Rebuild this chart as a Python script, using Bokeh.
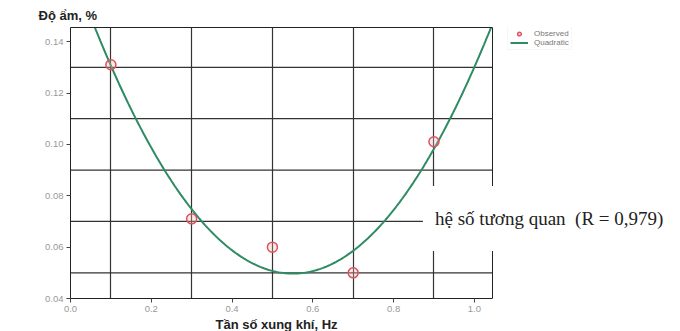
from bokeh.plotting import figure
from bokeh.models import Range1d, FixedTicker, Label, Legend, LegendItem, LinearAxis, Span, Title
from bokeh.embed import file_html
from bokeh.resources import INLINE
import numpy as np

# ---- data ----
freq_hz = [0.1, 0.3, 0.5, 0.7, 0.9]
moisture = [0.131, 0.071, 0.060, 0.050, 0.101]
x_ticks = [0.0, 0.2, 0.4, 0.6, 0.8, 1.0]
x_tick_labels = ["0.0", "0.2", "0.4", "0.6", "0.8", "1.0"]
y_ticks = [0.04, 0.06, 0.08, 0.10, 0.12, 0.14]
y_tick_labels = ["0.04", "0.06", "0.08", "0.10", "0.12", "0.14"]
x_ref_lines = [0.1, 0.3, 0.5, 0.7, 0.9]
y_ref_lines = [0.05, 0.07, 0.09, 0.11, 0.13]
series_names = ["Observed", "Quadratic"]
annotation_text = "hệ số tương quan\u00a0 (R = 0,979)"

X_MIN, X_MAX = 0.0, 1.045
Y_MIN, Y_MAX = 0.04, 0.1455

# quadratic fit of observed values
coef = np.polyfit(freq_hz, moisture, 2)
xs = np.linspace(X_MIN, X_MAX, 300)
ys = np.polyval(coef, xs)

# frame spans to the right edge so annotations can extend past the plot box
FRAME_W, BOX_W = 610, 422
p = figure(width=680, height=331, output_backend="svg", toolbar_location=None,
           x_range=Range1d(X_MIN, X_MAX * FRAME_W / BOX_W), y_range=Range1d(Y_MIN, Y_MAX),
           min_border_left=70, min_border_right=0, min_border_top=27,
           min_border_bottom=31)
p.background_fill_color = "white"
p.border_fill_color = "white"
p.outline_line_color = None

# vertical reference lines
p.xgrid.ticker = FixedTicker(ticks=x_ref_lines)
p.xgrid.grid_line_color = "#333333"
p.xgrid.grid_line_width = 1.2
p.ygrid.visible = False
# horizontal reference lines limited to the plot box
p.segment(x0=[X_MIN] * len(y_ref_lines), x1=[X_MAX] * len(y_ref_lines),
          y0=y_ref_lines, y1=y_ref_lines, line_color="#333333", line_width=1.2)

# axes
p.xaxis.ticker = FixedTicker(ticks=x_ticks)
p.yaxis.ticker = FixedTicker(ticks=y_ticks)
p.xaxis.bounds = (X_MIN, X_MAX)
p.xaxis.major_label_overrides = {t: l for t, l in zip(x_ticks, x_tick_labels)}
p.yaxis.major_label_overrides = {t: l for t, l in zip(y_ticks, y_tick_labels)}
for ax in (p.xaxis, p.yaxis):
    ax.axis_line_color = "#222222"
    ax.major_tick_line_color = "#444444"
    ax.major_tick_out = 4
    ax.major_tick_in = 0
    ax.minor_tick_line_color = None
    ax.major_label_text_font = "Liberation Sans"
    ax.major_label_text_font_size = "9.5px"
    ax.major_label_text_color = "#999999"
    ax.major_label_standoff = 3

# x-axis title placed under the plot box
xt = Title(text="Tần số xung khí, Hz", align="left", offset=145,
           text_font="Liberation Sans", text_font_size="13px",
           text_font_style="bold", text_color="#222222", standoff=0)
p.add_layout(xt, "below")

# top edge of the plot box
top = LinearAxis(bounds=(X_MIN, X_MAX), ticker=FixedTicker(ticks=[]),
                 axis_line_color="#222222", major_tick_line_color=None,
                 minor_tick_line_color=None, major_label_text_font_size="0px")
p.add_layout(top, "above")
# right edge of the plot box
p.add_layout(Span(location=X_MAX, dimension="height", line_color="#222222", line_width=1))

p.title.text = "Độ ẩm, %"
p.title.text_font = "Liberation Sans"
p.title.text_font_size = "13px"
p.title.text_font_style = "bold"
p.title.text_color = "#222222"
p.title.align = "left"
p.title.offset = -32

# glyphs
curve = p.line(xs, ys, line_color="#2e8b62", line_width=2)
pts = p.scatter(freq_hz, moisture, size=10, marker="circle",
                line_color="#e0505a", line_width=1.5,
                fill_color="#f5b5b5", fill_alpha=0.3)

legend = Legend(items=[LegendItem(label=series_names[0], renderers=[pts]),
                       LegendItem(label=series_names[1], renderers=[curve])],
                location=(437, 248), label_text_font="Liberation Sans",
                label_text_font_size="8px", label_text_color="#777777",
                glyph_width=18, glyph_height=9, label_height=9,
                spacing=0, padding=2, margin=0, label_standoff=6,
                border_line_color="#eeeeee", background_fill_alpha=0)
p.add_layout(legend)

lab = Label(x=0.9, y=0.07, text=annotation_text, text_align="left",
            text_baseline="middle", x_offset=-11, y_offset=3,
            text_font="Liberation Serif", text_font_size="19px",
            text_color="#222222", background_fill_color="white",
            padding=(12, 22))
p.add_layout(lab)

open("out.html", "w").write(file_html(p, INLINE))
